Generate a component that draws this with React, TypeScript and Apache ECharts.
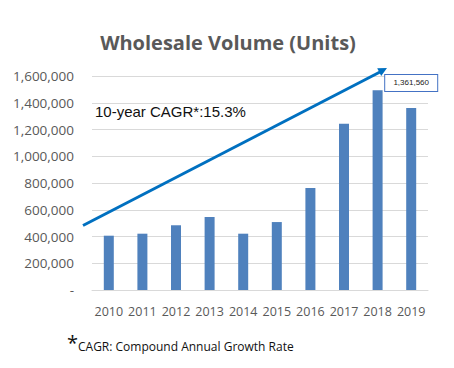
import React, { useEffect, useRef } from "react";
import * as echarts from "echarts";

const categories = ["2010", "2011", "2012", "2013", "2014", "2015", "2016", "2017", "2018", "2019"];
const volumes = [406000, 421000, 484000, 546000, 421000, 508000, 763000, 1243000, 1493000, 1361560];
const yTicks = [0, 200000, 400000, 600000, 800000, 1000000, 1200000, 1400000, 1600000];
const titleText = "Wholesale Volume (Units)";
const cagrText = "10-year CAGR*:15.3%";
const footnoteText = "CAGR: Compound Annual Growth Rate";

export default function App() {
  const ref = useRef<HTMLDivElement>(null);
  useEffect(() => {
    if (!ref.current) return;
    const chart = echarts.init(ref.current, null, { renderer: "svg" });
    const last = volumes.length - 1;
    chart.setOption({
      animation: false,
      backgroundColor: "#ffffff",
      title: {
        text: titleText,
        left: 223,
        textAlign: "center",
        top: 27,
        textStyle: { fontFamily: "Open Sans", fontWeight: "bold", fontSize: 20, color: "#595959" },
      },
      grid: { left: 92, right: 26, top: 76, bottom: 78, containLabel: false },
      xAxis: {
        type: "category",
        data: categories,
        axisLine: { show: true, lineStyle: { color: "#D9D9D9", width: 1 } },
        axisTick: { show: false },
        axisLabel: { color: "#595959", fontFamily: "Open Sans", fontSize: 12.5, margin: 15, interval: 0 },
      },
      yAxis: {
        type: "value",
        min: yTicks[0],
        max: yTicks[yTicks.length - 1],
        interval: 200000,
        axisLine: { show: false },
        axisTick: { show: false },
        splitLine: { lineStyle: { color: "#D9D9D9", width: 1 } },
        axisLabel: {
          color: "#595959",
          fontFamily: "Open Sans",
          fontSize: 13.5,
          margin: 18,
          formatter: (v: number) => (v === 0 ? "-" : v.toLocaleString("en-US")),
        },
      },
      series: [
        {
          type: "bar",
          barWidth: 10,
          itemStyle: { color: "#4F81BD" },
          data: volumes.map((v, i) =>
            i === last
              ? {
                  value: v,
                  label: {
                    show: true,
                    position: "top",
                    distance: 17,
                    formatter: (p: any) => Number(p.value).toLocaleString("en-US"),
                    fontFamily: "Arial",
                    fontSize: 8,
                    color: "#222222",
                    backgroundColor: "#ffffff",
                    borderColor: "#4472C4",
                    borderWidth: 1,
                    padding: [4, 6, 4, 6],
                    width: 40,
                    align: "center",
                  },
                }
              : v
          ),
        },
      ],
      graphic: [
        {
          type: "line",
          shape: { x1: 83, y1: 225.5, x2: 380, y2: 72 },
          style: { stroke: "#0070C0", lineWidth: 3 },
          z: 100,
        },
        {
          type: "polygon",
          shape: { points: [[387, 68], [377.2, 68.2], [381.2, 76.0]] },
          style: { fill: "#0070C0" },
          z: 100,
        },
        {
          type: "text",
          left: 95,
          top: 104,
          style: { text: cagrText, font: "15px Arial", fill: "#111111" },
          z: 100,
        },
        {
          type: "text",
          left: 67,
          top: 332,
          style: { text: "*", font: "20px 'Open Sans'", fill: "#111111" },
        },
        {
          type: "text",
          left: 78,
          top: 340,
          style: { text: footnoteText, font: "12px 'Open Sans'", fill: "#111111" },
        },
      ],
    });
    return () => chart.dispose();
  }, []);
  return (
    <div
      ref={ref}
      style={{ position: "fixed", left: 0, top: 0, width: 454, height: 368 }}
    />
  );
}
